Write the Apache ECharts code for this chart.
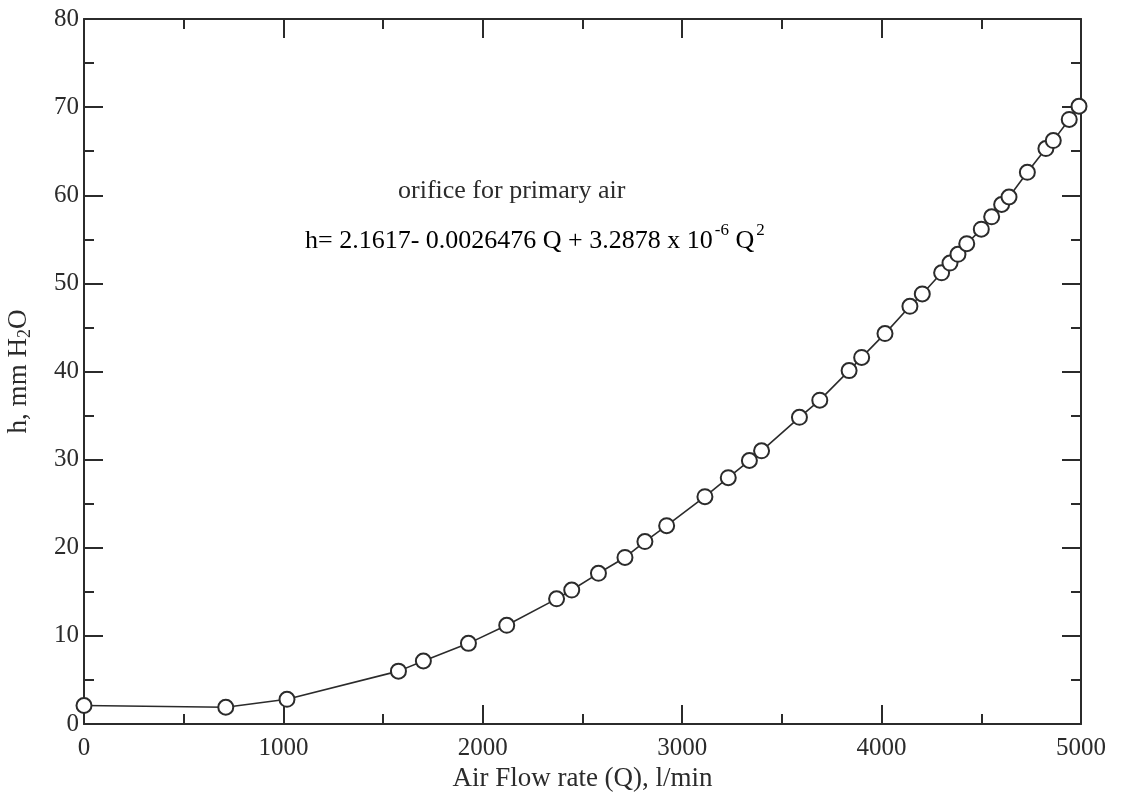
<!DOCTYPE html>
<html>
<head>
<meta charset="utf-8">
<script src="https://cdn.jsdelivr.net/npm/echarts@6/dist/echarts.min.js"></script>
<style>
  html, body { margin: 0; padding: 0; background: #fff; }
  #app { width: 1123px; height: 793px; }
</style>
</head>
<body>
<div id="app"></div>
<script>
// measured points: air flow Q (l/min) and head h (mm H2O)
const flowQ = [0, 711, 1018, 1577, 1702, 1928, 2120, 2370, 2446, 2580, 2713, 2813, 2922,
  3114, 3231, 3337, 3398, 3588, 3690, 3837, 3900, 4017, 4142, 4204, 4301, 4343, 4383,
  4427, 4500, 4552, 4602, 4639, 4731, 4824, 4861, 4941, 4990];
const headH = [2.1, 1.9, 2.8, 6.0, 7.15, 9.15, 11.2, 14.2, 15.2, 17.1, 18.9, 20.7, 22.5,
  25.8, 27.95, 29.9, 31.0, 34.8, 36.75, 40.1, 41.6, 44.3, 47.4, 48.8, 51.2, 52.3, 53.3,
  54.5, 56.15, 57.55, 58.95, 59.8, 62.6, 65.3, 66.2, 68.6, 70.1];

const points = flowQ.map((q, i) => [q, headH[i]]);

const app = document.getElementById("app");
const myChart = echarts.init(app);

const ink = "#2b2b2b";
const serif = "Liberation Serif";

const baseAxis = {
  axisLine: { show: true, onZero: false, lineStyle: { color: ink, width: 2 } },
  axisTick: { show: true, inside: true, length: 19, lineStyle: { color: ink, width: 2 } },
  minorTick: { show: true, splitNumber: 2, length: 10, lineStyle: { color: ink, width: 2 } },
  splitLine: { show: false },
  minorSplitLine: { show: false },
};

const plain = (v) => String(v);

const option = {
  backgroundColor: "#fff",
  animation: false,
  grid: { left: 84, right: 42, top: 19, bottom: 69, containLabel: false, outerBoundsMode: "none" },
  xAxis: [
    {
      ...baseAxis,
      type: "value",
      min: 0,
      max: 5000,
      interval: 1000,
      name: "Air Flow rate (Q), l/min",
      nameLocation: "middle",
      nameGap: 41,
      nameTextStyle: { fontFamily: serif, fontSize: 27, color: ink },
      axisLabel: { fontFamily: serif, fontSize: 25, color: ink, margin: 12, formatter: plain },
    },
    {
      ...baseAxis,
      type: "value",
      position: "top",
      min: 0,
      max: 5000,
      interval: 1000,
      axisLabel: { show: false },
    },
  ],
  yAxis: [
    {
      ...baseAxis,
      type: "value",
      min: 0,
      max: 80,
      interval: 10,
      name: "{t|h, mm H}{s|2}{t|O}",
      nameLocation: "middle",
      nameRotate: 90,
      nameGap: 50,
      nameTextStyle: {
        rich: {
          t: { fontFamily: serif, fontSize: 27, color: ink },
          s: { fontFamily: serif, fontSize: 18, color: ink, padding: [12, 0, 0, 0] },
        },
      },
      axisLabel: { fontFamily: serif, fontSize: 25, color: ink, margin: 5, formatter: plain },
    },
    {
      ...baseAxis,
      type: "value",
      position: "right",
      min: 0,
      max: 80,
      interval: 10,
      axisLabel: { show: false },
    },
  ],
  graphic: [
    {
      type: "text",
      left: 398,
      top: 178,
      style: {
        text: "orifice for primary air",
        font: "26px 'Liberation Serif'",
        fill: ink,
      },
    },
    {
      type: "text",
      left: 305,
      top: 222,
      style: {
        text: "{t|h= 2.1617- 0.0026476 Q + 3.2878 x 10}{p|-6}{t| Q}{p|2}",
        rich: {
          t: { fontFamily: serif, fontSize: 26, color: ink, lineHeight: 32, verticalAlign: "bottom" },
          p: { fontFamily: serif, fontSize: 17, color: ink, lineHeight: 32, verticalAlign: "top", padding: [0, 0, 8, 2] },
        },
      },
    },
  ],
  series: [
    {
      name: "orifice",
      type: "line",
      data: points,
      xAxisIndex: 0,
      yAxisIndex: 0,
      symbol: "emptyCircle",
      symbolSize: 15,
      showAllSymbol: true,
      lineStyle: { color: ink, width: 1.6 },
      itemStyle: { color: ink, borderColor: ink, borderWidth: 1.6 },
      clip: false,
    },
  ],
};
myChart.setOption(option);
</script>
</body>
</html>
